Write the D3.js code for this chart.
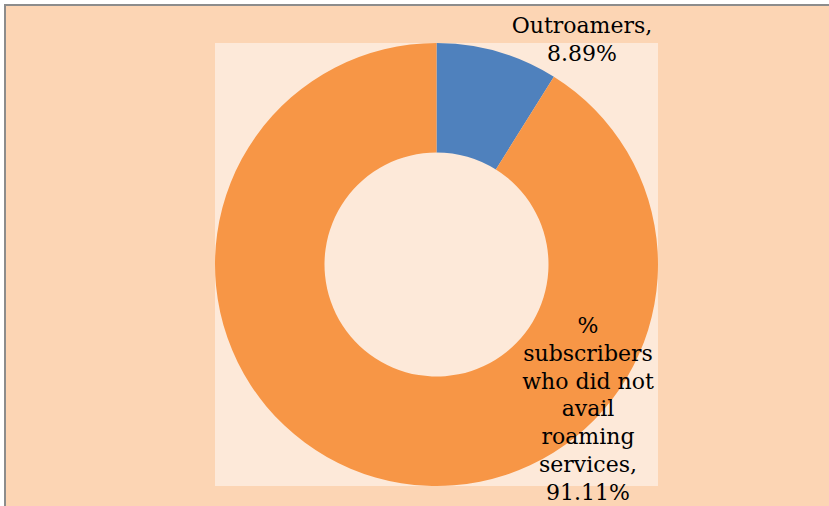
<!DOCTYPE html>
<html>
  <head>
    <meta charset="utf-8">
    <title>Outroamers donut</title>
    <script src="https://d3js.org/d3.v7.min.js"></script>
    <style>
      body { margin: 0; background: #fff; }
    </style>
  </head>
  <body>
    <svg width="829" height="506"></svg>

    <script>
      // data
      var categories = ["Outroamers", "% subscribers who did not avail roaming services"];
      var values = [8.89, 91.11];
      var colors = ["#4F81BD", "#F79646"];
      // label text, broken the way the picture wraps it
      var labelLines = [
        ["Outroamers,", "8.89%"],
        ["%", "subscribers", "who did not", "avail", "roaming", "services,", "91.11%"]
      ];

      var svg = d3.select("svg");

      // chart area with grey frame (right/bottom edges fall outside the picture)
      svg.append("rect")
        .attr("x", 5).attr("y", 5)
        .attr("width", 900).attr("height", 600)
        .attr("fill", "#FCD5B4")
        .attr("stroke", "#8C8C8C")
        .attr("stroke-width", 2);

      // plot area
      var cx = 436.5, cy = 264.5, outerR = 221.5, innerR = 112;
      svg.append("rect")
        .attr("x", cx - outerR).attr("y", cy - outerR)
        .attr("width", outerR * 2).attr("height", outerR * 2)
        .attr("fill", "#FDE9D9");

      var data = categories.map(function(c, i) {
        return { name: c, value: values[i], color: colors[i], lines: labelLines[i] };
      });

      var pie = d3.pie().sort(null).value(function(d) { return d.value; });
      var arc = d3.arc().innerRadius(innerR).outerRadius(outerR);

      var g = svg.append("g").attr("transform", "translate(" + cx + "," + cy + ")");
      g.selectAll("path")
        .data(pie(data))
        .enter().append("path")
        .attr("d", arc)
        .attr("fill", function(d) { return d.data.color; });

      // label anchors (centre x, first baseline y)
      var labelPos = [[582, 33], [588, 333]];
      var lineH = 27.8;

      svg.selectAll("text.lbl")
        .data(data)
        .enter().append("text")
        .attr("class", "lbl")
        .attr("text-anchor", "middle")
        .attr("font-family", "DejaVu Serif, serif")
        .attr("font-size", 22)
        .attr("fill", "#000")
        .each(function(d, i) {
          var t = d3.select(this);
          d.lines.forEach(function(line, j) {
            t.append("tspan")
              .attr("x", labelPos[i][0])
              .attr("y", labelPos[i][1] + j * lineH)
              .text(line);
          });
        });
    </script>
  </body>
</html>
